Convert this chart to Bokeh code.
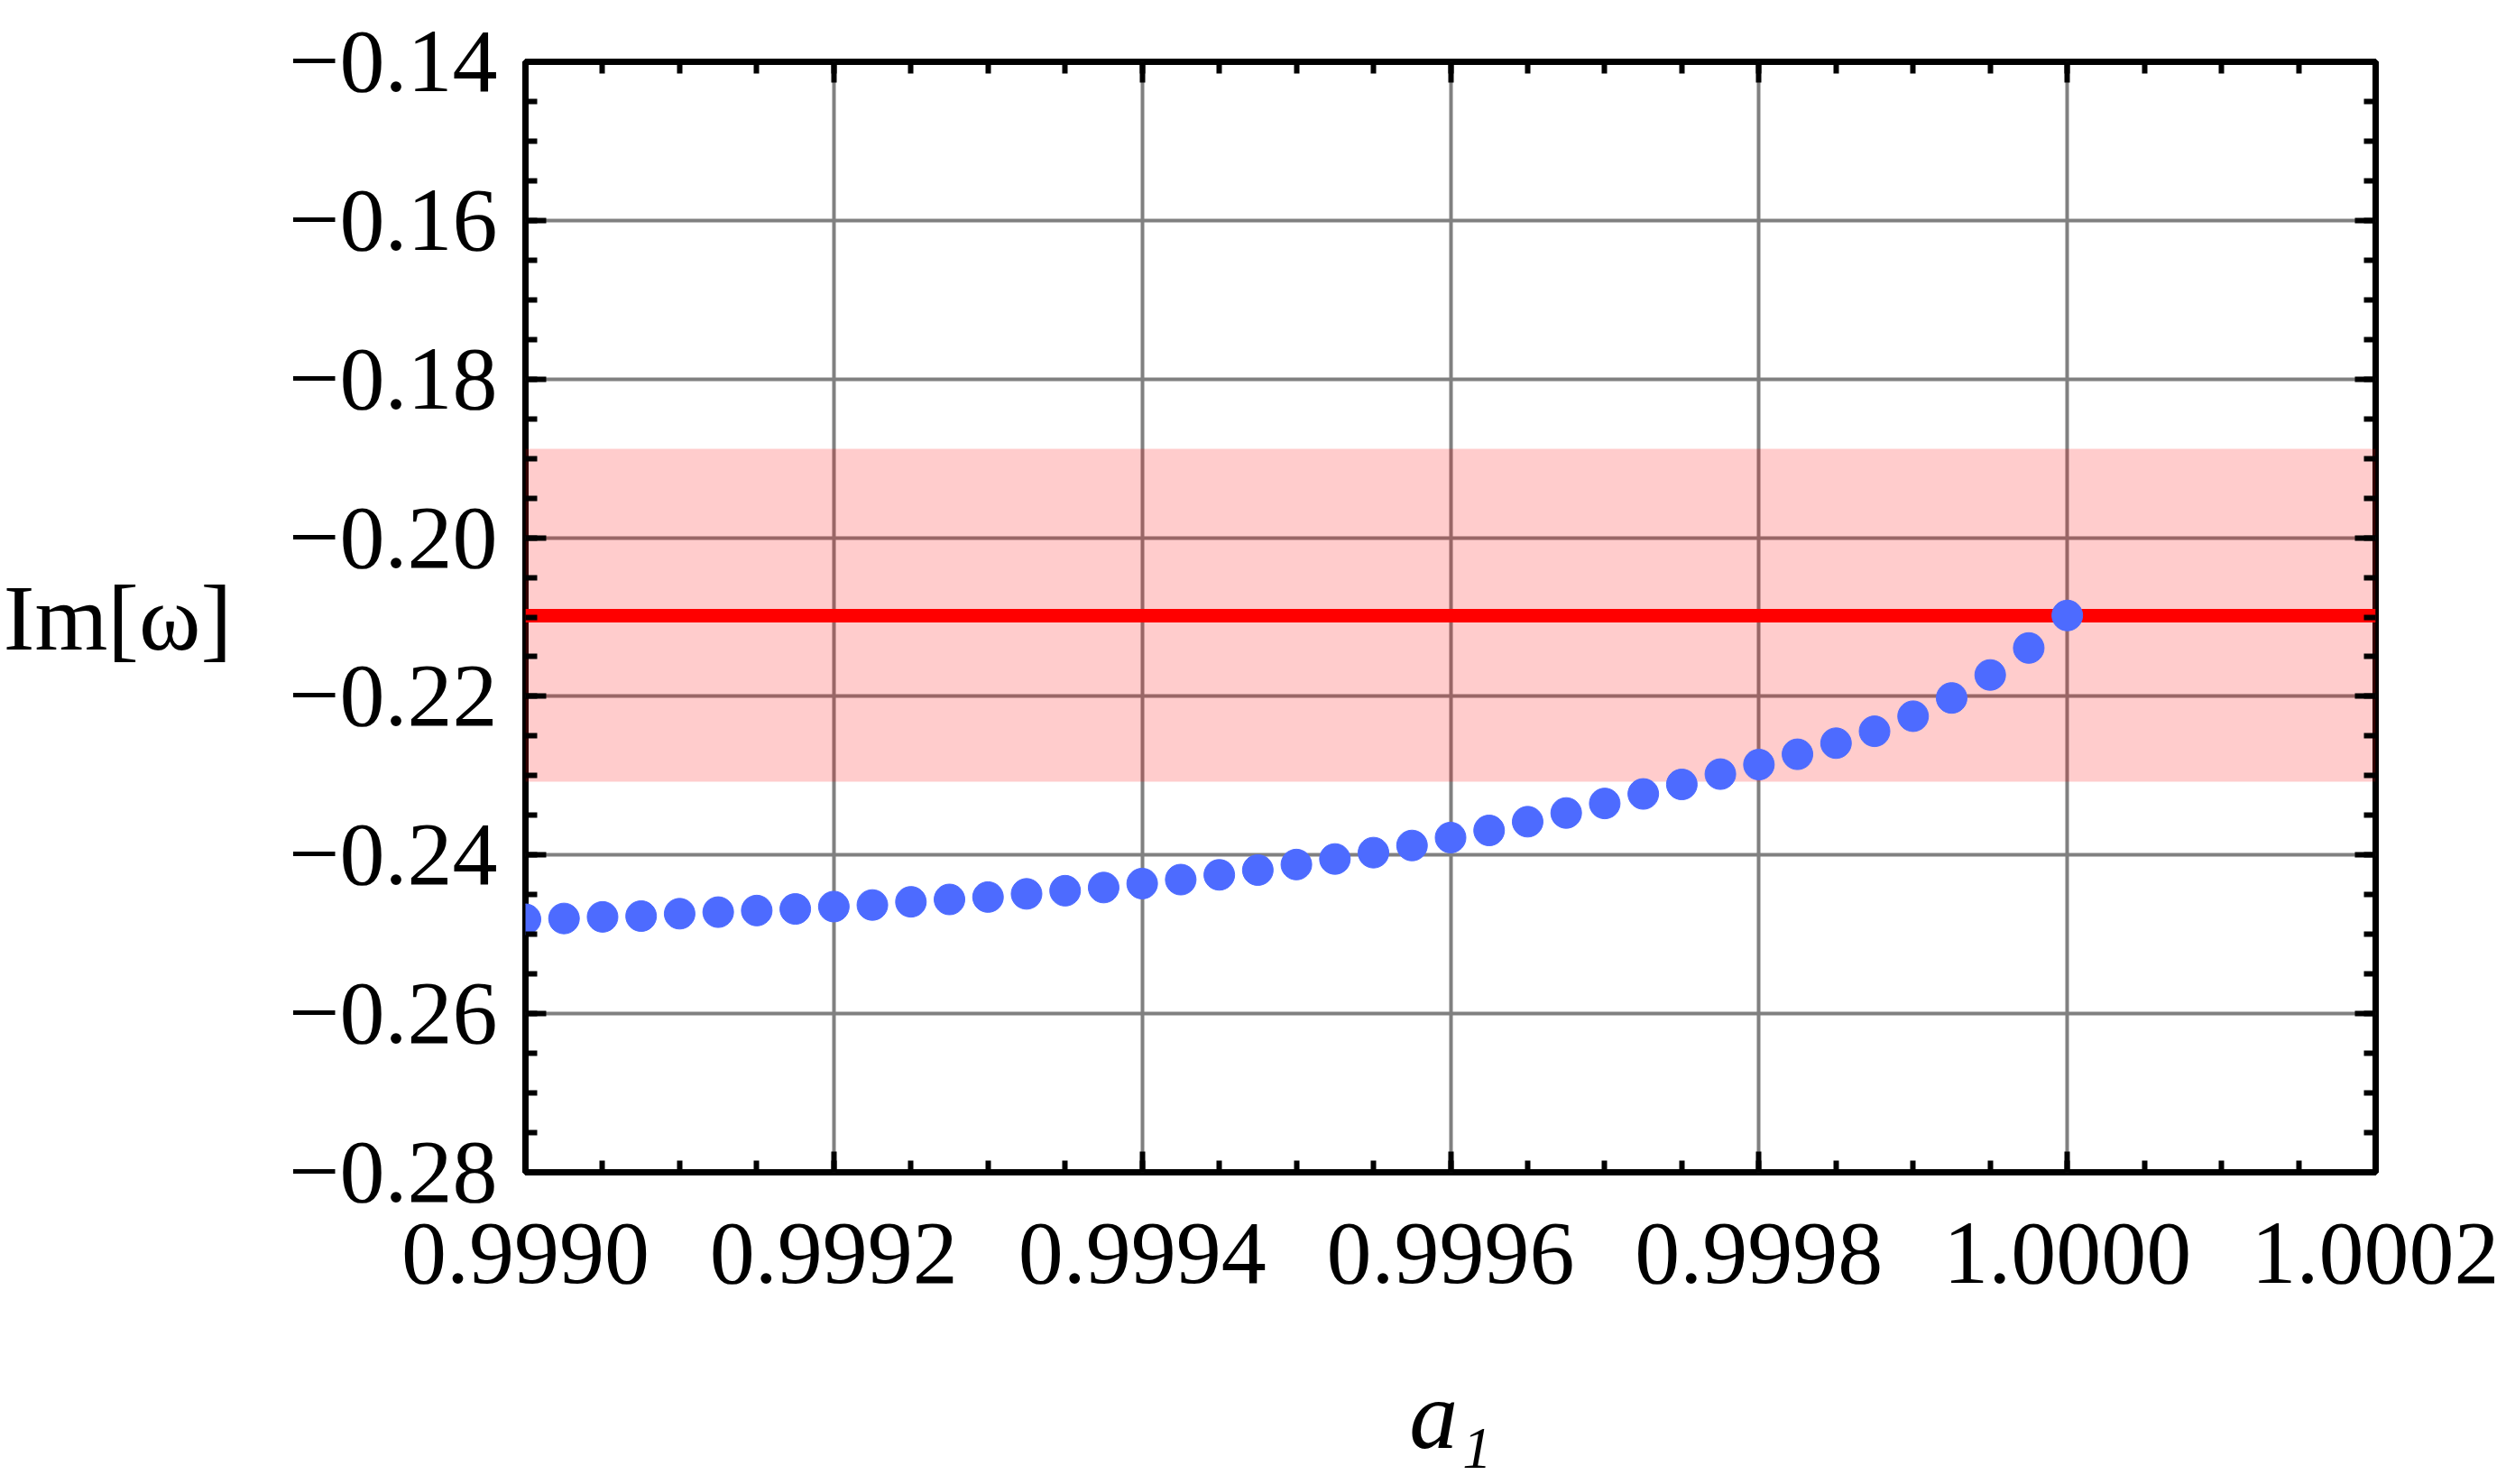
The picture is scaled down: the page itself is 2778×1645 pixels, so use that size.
import numpy as np
from bokeh.plotting import figure
from bokeh.models import (Range1d, FixedTicker, CustomJSTickFormatter, LinearAxis)
from bokeh.embed import file_html
from bokeh.resources import INLINE

# ---- data ----
a1 = [0.999000, 0.999025, 0.999050, 0.999075, 0.999100, 0.999125, 0.999150,
      0.999175, 0.999200, 0.999225, 0.999250, 0.999275, 0.999300, 0.999325,
      0.999350, 0.999375, 0.999400, 0.999425, 0.999450, 0.999475, 0.999500,
      0.999525, 0.999550, 0.999575, 0.999600, 0.999625, 0.999650, 0.999675,
      0.999700, 0.999725, 0.999750, 0.999775, 0.999800, 0.999825, 0.999850,
      0.999875, 0.999900, 0.999925, 0.999950, 0.999975, 1.000000]
im_omega = [-0.2481, -0.2480, -0.2478, -0.2477, -0.2474, -0.2472, -0.2470,
            -0.2468, -0.2465, -0.2463, -0.2459, -0.2456, -0.2453, -0.2449,
            -0.2445, -0.2441, -0.2436, -0.2431, -0.2425, -0.2419, -0.2412,
            -0.2405, -0.2397, -0.2388, -0.2378, -0.2369, -0.2358, -0.2347,
            -0.2335, -0.2323, -0.2311, -0.2298, -0.2286, -0.2273, -0.2259,
            -0.2244, -0.2225, -0.2202, -0.2173, -0.2139, -0.2098]
ref_value = -0.2098
band_lower = -0.2308
band_upper = -0.1888

x_ticks = [0.9990, 0.9992, 0.9994, 0.9996, 0.9998, 1.0000, 1.0002]
y_ticks = [-0.28, -0.26, -0.24, -0.22, -0.20, -0.18, -0.16, -0.14]
x_label = "a\u2081"
y_label = "Im[ω]"

FONT = "Liberation Serif"

x_minor = [round(v, 6) for v in np.arange(0.9990, 1.00020001, 0.00005)]
y_minor = [round(v, 4) for v in np.arange(-0.28, -0.13999, 0.005)]

p = figure(width=2770, height=1645,
           x_range=Range1d(x_ticks[0], x_ticks[-1]),
           y_range=Range1d(y_ticks[0], y_ticks[-1]),
           output_backend="svg", toolbar_location=None,
           min_border_left=581, min_border_right=137,
           min_border_top=68, min_border_bottom=346)

p.background_fill_color = "white"
p.border_fill_color = "white"
p.outline_line_color = "black"
p.outline_line_width = 7

xt = FixedTicker(ticks=x_ticks, minor_ticks=x_minor)
yt = FixedTicker(ticks=y_ticks, minor_ticks=y_minor)

p.xaxis.ticker = xt
p.yaxis.ticker = yt
p.xaxis.formatter = CustomJSTickFormatter(code="return tick.toFixed(4);")
p.yaxis.formatter = CustomJSTickFormatter(
    code="return (tick < 0 ? '\u2212' : '') + Math.abs(tick).toFixed(2);")


def style_axis(ax):
    ax.axis_line_color = None
    ax.major_tick_in = 23
    ax.major_tick_out = 0
    ax.minor_tick_in = 13
    ax.minor_tick_out = 0
    ax.major_tick_line_width = 6
    ax.minor_tick_line_width = 6
    ax.major_tick_line_color = "black"
    ax.minor_tick_line_color = "black"
    ax.major_label_text_font = FONT
    ax.major_label_text_font_size = "100px"
    ax.major_label_text_color = "black"
    ax.axis_label_text_font = FONT
    ax.axis_label_text_color = "black"


for ax in list(p.xaxis) + list(p.yaxis):
    style_axis(ax)
p.yaxis.major_label_standoff = 31
p.xaxis.major_label_standoff = 57

p.yaxis.axis_label = y_label
p.yaxis.axis_label_orientation = "horizontal"
p.yaxis.axis_label_text_font_size = "104px"
p.yaxis.axis_label_text_font_style = "normal"
p.yaxis.axis_label_standoff = 60

p.xaxis.axis_label = x_label
p.xaxis.axis_label_text_font_size = "108px"
p.xaxis.axis_label_text_font_style = "italic"
p.xaxis.axis_label_standoff = 84

top = LinearAxis(ticker=xt, formatter=CustomJSTickFormatter(code="return '';"))
right = LinearAxis(ticker=yt, formatter=CustomJSTickFormatter(code="return '';"))
for ax in (top, right):
    style_axis(ax)
    ax.major_label_text_font_size = "1px"
    ax.major_label_standoff = 0
p.add_layout(top, "above")
p.add_layout(right, "right")

p.xgrid.ticker = xt
p.ygrid.ticker = yt
for g in (p.xgrid, p.ygrid):
    g.grid_line_color = "#808080"
    g.grid_line_width = 4

p.hstrip(y0=[band_lower], y1=[band_upper], fill_color="red", fill_alpha=0.2,
         line_color=None)
p.hspan(y=[ref_value], line_color="red", line_width=15)
p.scatter(a1, im_omega, size=34, color="#4d6bff")

open("out.html", "w", encoding="utf-8").write(file_html(p, INLINE))
